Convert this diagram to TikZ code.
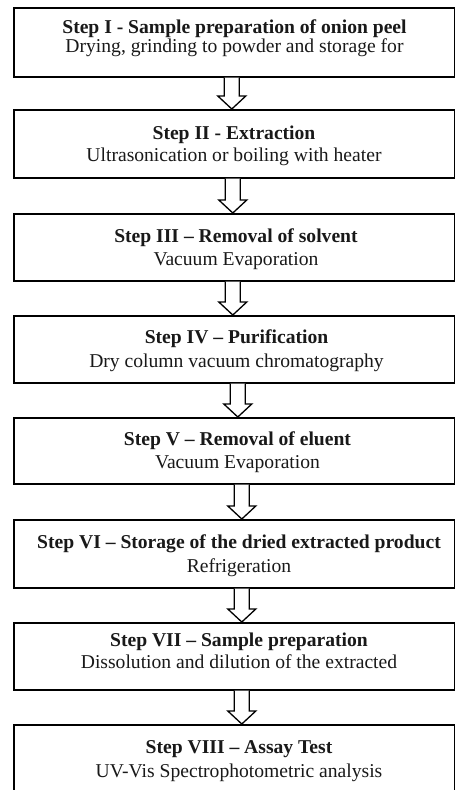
\documentclass[tikz,border=0pt]{standalone}
\usepackage{fontspec}
\setmainfont{Liberation Serif}
\usetikzlibrary{calc}
\tikzset{
  stepbox/.style={draw=black, line width=1.6pt, fill=white, inner sep=0pt, minimum width=441pt, anchor=north west},
  headtxt/.style={font=\fontsize{19.6}{23}\selectfont\bfseries, anchor=base, inner sep=0pt, text=black!90},
  bodytxt/.style={font=\fontsize{19.6}{23}\selectfont, anchor=base, inner sep=0pt, text=black!90},
  blockarr/.style={draw=black, line width=1.3pt, fill=white, line join=miter},
}
\newcommand{\blockarrow}[3]{%
  \path (#1.south) ++({#3-233.5},0) coordinate (as);
  \path (#2.north) ++({#3-233.5},0) coordinate (ae);
  \draw[blockarr] ($(as)+(-7.5,0)$) -- ($(ae)+(-7.5,-13)$) -- ($(ae)+(-14,-13)$) -- (ae) -- ($(ae)+(14,-13)$) -- ($(ae)+(7.5,-13)$) -- ($(as)+(7.5,0)$);
}
\begin{document}
\begin{tikzpicture}[x=1pt,y=-1pt]
\useasboundingbox (0,0) rectangle (455,790);
\clip (0,0) rectangle (455,790);
\fill[white] (0,0) rectangle (455,790);
% boxes
\node[stepbox, minimum height=69pt] (b1) at (13,7) {};
\node[stepbox, minimum height=68pt] (b2) at (13,109) {};
\node[stepbox, minimum height=67pt] (b3) at (13,213) {};
\node[stepbox, minimum height=67pt] (b4) at (13,315) {};
\node[stepbox, minimum height=66pt] (b5) at (13,417) {};
\node[stepbox, minimum height=68pt] (b6) at (13,519) {};
\node[stepbox, minimum height=67pt] (b7) at (13,622) {};
\node[stepbox, minimum height=100pt] (b8) at (13,724) {};
% texts
\node[headtxt] (h1) at (234.5,33) {Step I - Sample preparation of onion peel};
\node[bodytxt] (d1) at (234.5,52) {Drying, grinding to powder and storage for};
\node[headtxt] (h2) at (234,139) {Step II - Extraction};
\node[bodytxt] (d2) at (234,161) {Ultrasonication or boiling with heater};
\node[headtxt] (h3) at (236,242) {Step III – Removal of solvent};
\node[bodytxt] (d3) at (236,265) {Vacuum Evaporation};
\node[headtxt] (h4) at (236.5,343) {Step IV – Purification};
\node[bodytxt] (d4) at (236.5,367) {Dry column vacuum chromatography};
\node[headtxt] (h5) at (237.5,445) {Step V – Removal of eluent};
\node[bodytxt] (d5) at (237.5,468) {Vacuum Evaporation};
\node[headtxt] (h6) at (239,548) {Step VI – Storage of the dried extracted product};
\node[bodytxt] (d6) at (239,572) {Refrigeration};
\node[headtxt] (h7) at (239,646) {Step VII – Sample preparation};
\node[bodytxt] (d7) at (239,668) {Dissolution and dilution of the extracted};
\node[headtxt] (h8) at (239,753) {Step VIII – Assay Test};
\node[bodytxt] (d8) at (239,777) {UV-Vis Spectrophotometric analysis};
% arrows
\blockarrow{b1}{b2}{231}
\blockarrow{b2}{b3}{232}
\blockarrow{b3}{b4}{232}
\blockarrow{b4}{b5}{237}
\blockarrow{b5}{b6}{241}
\blockarrow{b6}{b7}{241}
\blockarrow{b7}{b8}{241}
\end{tikzpicture}
\end{document}
